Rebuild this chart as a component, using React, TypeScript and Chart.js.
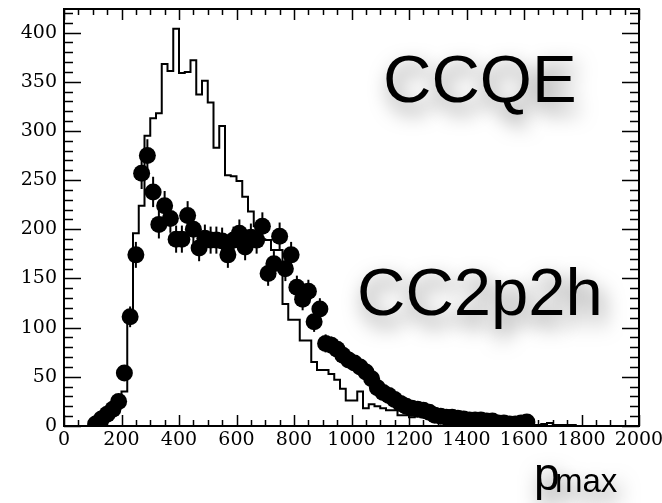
import React, { useEffect, useRef } from 'react';
import { Chart, registerables } from 'chart.js';

Chart.register(...registerables);

// CCQE histogram: lower bin edges (width 20) and bin contents
const histBinLow = [
  0, 20, 40, 60, 80, 100, 120, 140, 160, 180, 200, 220, 240, 260, 280, 300, 320, 340, 360, 380,
  400, 420, 440, 460, 480, 500, 520, 540, 560, 580, 600, 620, 640, 660, 680, 700, 720, 740, 760, 780,
  800, 820, 840, 860, 880, 900, 920, 940, 960, 980, 1000, 1020, 1040, 1060, 1080, 1100, 1120, 1140, 1160, 1180,
  1200, 1220, 1240, 1260, 1280, 1300, 1320, 1340, 1360, 1380, 1400, 1420, 1440, 1460, 1480, 1500, 1520, 1540, 1560, 1580,
  1600, 1620, 1640, 1660, 1680, 1700, 1720, 1740, 1760, 1780, 1800, 1820, 1840, 1860, 1880, 1900, 1920, 1940, 1960, 1980,
];
const histBinHigh = 2000;
const ccqeCounts = [
  0, 0, 0, 0, 0, 1, 3, 6, 12, 20, 35, 115, 196, 224, 295, 313, 318, 368, 361, 404,
  359, 360, 372, 337, 351, 329, 283, 305, 255, 254, 249, 233, 218, 203, 190, 189, 179, 179, 124, 108,
  108, 87, 87, 65, 57, 57, 53, 47, 38, 26, 26, 35, 18, 22, 20, 18, 16, 16, 11, 11,
  9, 10, 9, 8, 7, 6, 6, 5, 4, 4, 3, 3, 3, 2, 2, 2, 2, 1, 1, 1,
  1, 1, 1, 2, 3, 1, 1, 1, 1, 0, 0, 0, 0, 0, 0, 0, 0, 0, 0, 0,
];

// CC2p2h points: bin centres and contents
const pointCentres = [
  110, 130, 150, 170, 190, 210, 230, 250, 270, 290, 310, 330, 350, 370, 390, 410, 430, 450, 470, 490,
  510, 530, 550, 570, 590, 610, 630, 650, 670, 690, 710, 730, 750, 770, 790, 810, 830, 850, 870, 890,
  910, 930, 950, 970, 990, 1010, 1030, 1050, 1070, 1090, 1110, 1130, 1150, 1170, 1190, 1210, 1230, 1250, 1270, 1290,
  1310, 1330, 1350, 1370, 1390, 1410, 1430, 1450, 1470, 1490, 1510, 1530, 1550, 1570, 1590, 1610,
];
const cc2p2hCounts = [
  2, 7, 12, 17, 25, 54, 111, 174, 257, 275, 238, 205, 224, 211, 190, 190, 214, 200, 181, 191,
  189, 189, 188, 174, 189, 196, 182, 192, 189, 203, 155, 165, 193, 160, 174, 141, 129, 137, 106, 119,
  84, 82, 78, 72, 67, 64, 60, 55, 48, 39, 34, 31, 27, 23, 20, 18, 17, 16, 14, 11,
  10, 9, 9, 8, 7, 6, 6, 6, 5, 5, 3, 3, 2, 2, 3, 4,
];

// axis ranges and ticks
const xMin = 0;
const xMax = 2000;
const xMajor = 200;
const xMinor = 50;
const yMin = 0;
const yMax = 424;
const yMajor = 50;
const yMinor = 10;

const labelCCQE = 'CCQE';
const labelCC2p2h = 'CC2p2h';
const axisLabelMain = 'p';
const axisLabelSub = 'max';

const errorBarPlugin = {
  id: 'errorBars',
  beforeDatasetsDraw(chart: any) {
    const { ctx } = chart;
    const xs = chart.scales.x;
    const ys = chart.scales.y;
    ctx.save();
    ctx.strokeStyle = '#000';
    ctx.lineWidth = 2;
    pointCentres.forEach((c, i) => {
      const v = cc2p2hCounts[i];
      const e = Math.sqrt(v);
      const px = xs.getPixelForValue(c);
      ctx.beginPath();
      ctx.moveTo(px, ys.getPixelForValue(Math.max(0, v - e)));
      ctx.lineTo(px, ys.getPixelForValue(v + e));
      ctx.stroke();
    });
    ctx.restore();
  },
};

const framePlugin = {
  id: 'frameTicks',
  afterDatasetsDraw(chart: any) {
    const { ctx, chartArea } = chart;
    const { left, right, top, bottom } = chartArea;
    const xs = chart.scales.x;
    const ys = chart.scales.y;
    ctx.save();
    ctx.strokeStyle = '#000';
    ctx.lineWidth = 1.5;
    for (let v = xMin; v <= xMax; v += xMinor) {
      const px = Math.round(xs.getPixelForValue(v)) + 0.5;
      const len = v % xMajor === 0 ? 11 : 6;
      ctx.beginPath();
      ctx.moveTo(px, bottom);
      ctx.lineTo(px, bottom - len);
      ctx.moveTo(px, top);
      ctx.lineTo(px, top + len);
      ctx.stroke();
    }
    for (let v = yMin; v <= yMax; v += yMinor) {
      const py = Math.round(ys.getPixelForValue(v)) + 0.5;
      const len = v % yMajor === 0 ? 17 : 9;
      ctx.beginPath();
      ctx.moveTo(left, py);
      ctx.lineTo(left + len, py);
      ctx.moveTo(right, py);
      ctx.lineTo(right - len, py);
      ctx.stroke();
    }
    ctx.lineWidth = 2;
    ctx.strokeRect(left, top, right - left, bottom - top);
    ctx.restore();
  },
};

const textPlugin = {
  id: 'shadowText',
  afterDraw(chart: any) {
    const { ctx } = chart;
    ctx.save();
    ctx.fillStyle = '#000';
    ctx.textBaseline = 'alphabetic';
    ctx.textAlign = 'left';
    ctx.shadowColor = 'rgba(0,0,0,0.5)';
    ctx.shadowBlur = 20;
    ctx.shadowOffsetX = 4;
    ctx.shadowOffsetY = 10;
    ctx.font = '67px "Liberation Sans", Arial, sans-serif';
    ctx.fillText(labelCCQE, 383, 101.5);
    ctx.fillText(labelCC2p2h, 357, 315);
    ctx.font = '46px "Liberation Sans", Arial, sans-serif';
    ctx.fillText(axisLabelMain, 534, 490);
    ctx.font = '33px "Liberation Sans", Arial, sans-serif';
    ctx.fillText(axisLabelSub, 555, 492);
    ctx.restore();
  },
};

export default function App() {
  const ref = useRef<HTMLCanvasElement | null>(null);
  useEffect(() => {
    if (!ref.current) return;
    const histPoints = histBinLow.map((x, i) => ({ x, y: ccqeCounts[i] }));
    histPoints.push({ x: histBinHigh, y: ccqeCounts[ccqeCounts.length - 1] });
    const pts = pointCentres.map((x, i) => ({ x, y: cc2p2hCounts[i] }));
    const tickFont = { family: '"DejaVu Serif", "Liberation Serif", serif', size: 19 };
    const chart = new Chart(ref.current, {
      type: 'scatter',
      data: {
        datasets: [
          {
            label: labelCC2p2h,
            data: pts,
            backgroundColor: '#000',
            borderWidth: 0,
            pointRadius: 8.5,
            pointHoverRadius: 8.5,
          } as any,
          {
            type: 'line',
            label: labelCCQE,
            data: histPoints,
            stepped: 'before',
            borderColor: '#000',
            borderWidth: 2,
            pointRadius: 0,
            fill: false,
            showLine: true,
          } as any,
        ],
      },
      options: {
        responsive: false,
        animation: false,
        devicePixelRatio: 1,
        layout: { padding: { top: 9, right: 23, left: 0, bottom: 0 } },
        plugins: { legend: { display: false }, tooltip: { enabled: false }, title: { display: false } },
        scales: {
          x: {
            type: 'linear',
            min: xMin,
            max: xMax,
            grid: { display: false, drawTicks: false },
            border: { display: false },
            ticks: {
              stepSize: xMajor, color: '#000', font: tickFont, padding: 3, maxRotation: 0, autoSkip: false, includeBounds: false,
              callback: (v: any) => String(v),
            },
            afterFit(s: any) { s.height = 77; s.paddingLeft = 0; s.paddingRight = 0; },
          },
          y: {
            type: 'linear',
            min: yMin,
            max: yMax,
            grid: { display: false, drawTicks: false },
            border: { display: false },
            ticks: { stepSize: yMajor, color: '#000', font: tickFont, padding: 7, includeBounds: false, callback: (v: any) => String(v) },
            afterFit(s: any) { s.width = 64; s.paddingTop = 0; s.paddingBottom = 0; },
          },
        },
      } as any,
      plugins: [errorBarPlugin, framePlugin, textPlugin],
    });
    return () => chart.destroy();
  }, []);
  return (
    <div style={{ position: 'fixed', left: 0, top: 0, width: 662, height: 503, background: '#fff' }}>
      <canvas ref={ref} width={662} height={503} />
    </div>
  );
}
